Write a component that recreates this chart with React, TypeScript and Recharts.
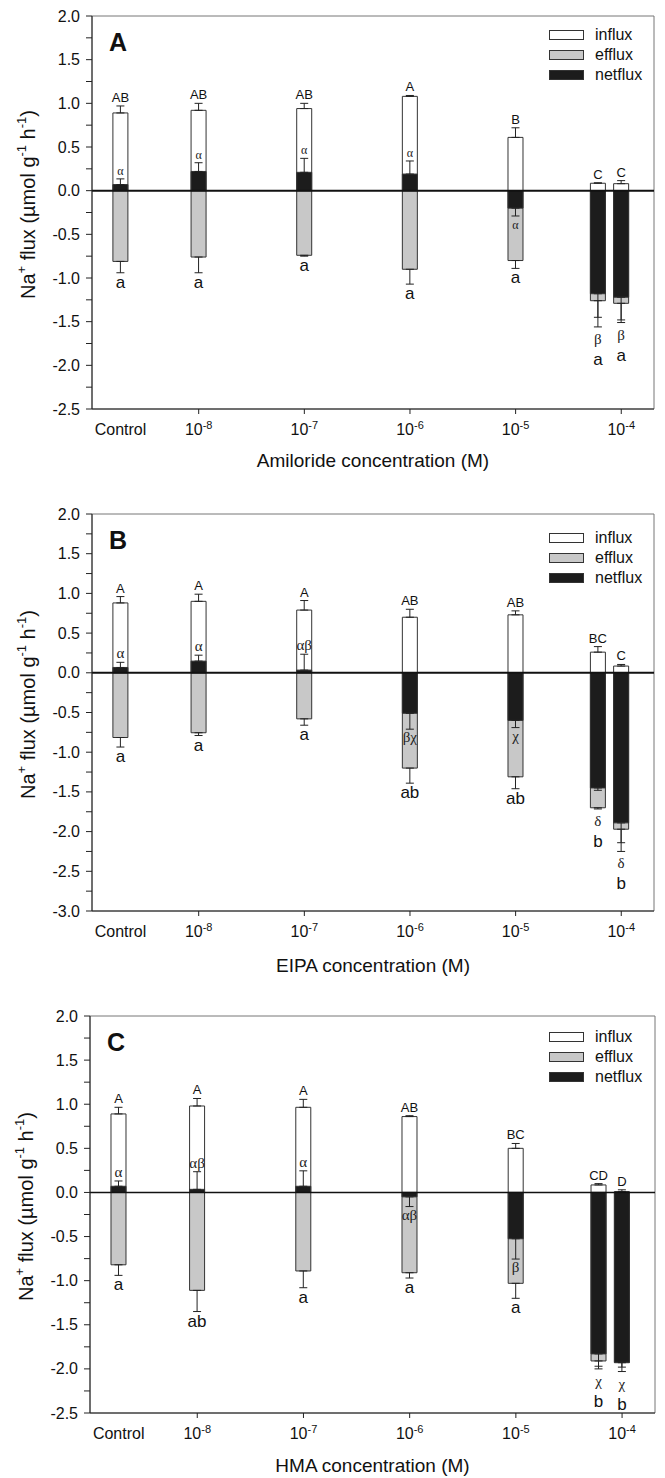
import React from 'react';
import { BarChart, Bar, XAxis, YAxis, ErrorBar, ReferenceLine, ReferenceArea, Legend, LabelList } from 'recharts';

const FONT = '"Liberation Sans", Arial, Helvetica, sans-serif';
const GREEK_FONT = '"Liberation Serif", "DejaVu Serif", serif';

// x position = log10 of the concentration; the control sits left of 10^-8
const concLog = [-8.74, -8, -7, -6, -5, -4.22, -4];
const xTickValues = [-8.74, -8, -7, -6, -5, -4];
const xTickBase = ['Control', '10', '10', '10', '10', '10'];
const xTickExp = ['', '-8', '-7', '-6', '-5', '-4'];
const xDomain = [-9.01, -3.69];

const yTicks25 = [-2.5, -2.25, -2, -1.75, -1.5, -1.25, -1, -0.75, -0.5, -0.25, 0, 0.25, 0.5, 0.75, 1, 1.25, 1.5, 1.75, 2];
const yTicks30 = [-3, -2.75, ...yTicks25];

const seriesOrder = ['influx', 'efflux', 'netflux'];

// A: amiloride
const amilorideInflux = [0.89, 0.92, 0.94, 1.08, 0.61, 0.085, 0.08];
const amilorideInfluxErr = [0.08, 0.08, 0.06, 0.01, 0.11, 0.005, 0.035];
const amilorideEfflux = [-0.81, -0.76, -0.74, -0.9, -0.8, -1.26, -1.29];
const amilorideEffluxErr = [0.13, 0.18, 0.01, 0.17, 0.09, 0.3, 0.22];
const amilorideNet = [0.07, 0.22, 0.21, 0.19, -0.2, -1.18, -1.22];
const amilorideNetErr = [0.065, 0.1, 0.16, 0.15, 0.09, 0.27, 0.26];
const amilorideUpper = ['AB', 'AB', 'AB', 'A', 'B', 'C', 'C'];
const amilorideGreek = ['α', 'α', 'α', 'α', 'α', 'β', 'β'];
const amilorideLower = ['a', 'a', 'a', 'a', 'a', 'a', 'a'];

// B: EIPA
const eipaInflux = [0.88, 0.9, 0.79, 0.7, 0.73, 0.26, 0.085];
const eipaInfluxErr = [0.08, 0.09, 0.12, 0.1, 0.05, 0.07, 0.02];
const eipaEfflux = [-0.815, -0.755, -0.58, -1.2, -1.31, -1.7, -1.97];
const eipaEffluxErr = [0.12, 0.035, 0.08, 0.19, 0.15, 0.015, 0.28];
const eipaNet = [0.067, 0.147, 0.034, -0.51, -0.6, -1.45, -1.89];
const eipaNetErr = [0.065, 0.075, 0.2, 0.2, 0.09, 0.03, 0.25];
const eipaUpper = ['A', 'A', 'A', 'AB', 'AB', 'BC', 'C'];
const eipaGreek = ['α', 'α', 'αβ', 'βχ', 'χ', 'δ', 'δ'];
const eipaLower = ['a', 'a', 'a', 'ab', 'ab', 'b', 'b'];

// C: HMA
const hmaInflux = [0.89, 0.98, 0.965, 0.86, 0.5, 0.085, 0.01];
const hmaInfluxErr = [0.075, 0.085, 0.09, 0.01, 0.055, 0.015, 0.02];
const hmaEfflux = [-0.82, -1.11, -0.89, -0.91, -1.03, -1.91, -1.93];
const hmaEffluxErr = [0.12, 0.24, 0.19, 0.06, 0.17, 0.09, 0.1];
const hmaNet = [0.07, 0.035, 0.07, -0.05, -0.525, -1.83, -1.925];
const hmaNetErr = [0.06, 0.2, 0.175, 0.11, 0.23, 0.14, 0.055];
const hmaUpper = ['A', 'A', 'A', 'AB', 'BC', 'CD', 'D'];
const hmaGreek = ['α', 'αβ', 'α', 'αβ', 'β', 'χ', 'χ'];
const hmaLower = ['a', 'ab', 'a', 'a', 'a', 'b', 'b'];

const panels = [
  {
    letter: 'A', title: 'Amiloride concentration (M)',
    influx: amilorideInflux, influxErr: amilorideInfluxErr, efflux: amilorideEfflux, effluxErr: amilorideEffluxErr,
    net: amilorideNet, netErr: amilorideNetErr, upper: amilorideUpper, greek: amilorideGreek, lower: amilorideLower,
    yDomain: [-2.5, 2], yTicks: yTicks25,
    top: 0, height: 490, margin: { top: 16, right: 11, bottom: 11, left: 12 }, xAxisHeight: 70,
    titleOffset: 58, legendTop: 25, zeroWidth: 2, greekSize: 12, greekBelowSize: 15,
  },
  {
    letter: 'B', title: 'EIPA concentration (M)',
    influx: eipaInflux, influxErr: eipaInfluxErr, efflux: eipaEfflux, effluxErr: eipaEffluxErr,
    net: eipaNet, netErr: eipaNetErr, upper: eipaUpper, greek: eipaGreek, lower: eipaLower,
    yDomain: [-3, 2], yTicks: yTicks30,
    top: 490, height: 500, margin: { top: 24, right: 11, bottom: 9, left: 12 }, xAxisHeight: 70,
    titleOffset: 61, legendTop: 38, zeroWidth: 2, greekSize: 15, greekBelowSize: 15,
  },
  {
    letter: 'C', title: 'HMA concentration (M)',
    influx: hmaInflux, influxErr: hmaInfluxErr, efflux: hmaEfflux, effluxErr: hmaEffluxErr,
    net: hmaNet, netErr: hmaNetErr, upper: hmaUpper, greek: hmaGreek, lower: hmaLower,
    yDomain: [-2.5, 2], yTicks: yTicks25,
    top: 990, height: 488, margin: { top: 26, right: 10, bottom: 5, left: 10 }, xAxisHeight: 60,
    titleOffset: 59, legendTop: 37, zeroWidth: 1.5, greekSize: 15, greekBelowSize: 15,
  },
];

const XTick = (props: any) => {
  const { x, y, payload } = props;
  const i = xTickValues.indexOf(payload.value);
  const axisY = y - 10;
  return (
    <g>
      {xTickExp[i] && <line x1={x} x2={x} y1={axisY} y2={axisY + 5} stroke="#222" />}
      <text x={x} y={y + 16} textAnchor="middle" fontSize={16} fill="#111" fontFamily={FONT}>
        {xTickBase[i]}
        {xTickExp[i] && <tspan dy={-6} fontSize={11}>{xTickExp[i]}</tspan>}
      </text>
    </g>
  );
};

const YTick = (props: any) => {
  const { x, y, payload } = props;
  const v = payload.value;
  if (Math.abs(v * 2 - Math.round(v * 2)) > 1e-6) return null;
  return (
    <text x={x} y={y} textAnchor="end" dominantBaseline="central" fontSize={16} fill="#111" fontFamily={FONT}>
      {v.toFixed(1)}
    </text>
  );
};

const YTitle = (props: any) => {
  const vb = props.viewBox;
  const cx = vb.x + 16;
  const cy = vb.y + vb.height / 2 - 8;
  return (
    <text x={cx} y={cy} transform={`rotate(-90 ${cx} ${cy})`} textAnchor="middle" dominantBaseline="central"
      fontSize={20} fill="#111" fontFamily={FONT}>
      Na<tspan dy={-7} fontSize={13}>+</tspan>
      <tspan dy={7}> flux (µmol g</tspan>
      <tspan dy={-7} fontSize={13}>-1</tspan>
      <tspan dy={7}> h</tspan>
      <tspan dy={-7} fontSize={13}>-1</tspan>
      <tspan dy={7}>)</tspan>
    </text>
  );
};

const XTitle = (props: any) => {
  const vb = props.viewBox;
  return (
    <text x={vb.x + vb.width / 2} y={vb.y + props.offsetY} textAnchor="middle" fontSize={19} fill="#111" fontFamily={FONT}>
      {props.text}
    </text>
  );
};

// letters of significance, placed from the bar geometry of the netflux bar
const SigLabels = (props: any) => {
  const { index, p } = props;
  const vb = props.viewBox && props.viewBox.width !== undefined ? props.viewBox : props;
  const net = p.net[index];
  const h = Math.abs(vb.height);
  const top = Math.min(vb.y, vb.y + vb.height);
  const ppu = h / Math.abs(net);
  const zeroY = net >= 0 ? top + h : top;
  const Y = (v: number) => zeroY - v * ppu;
  const cx = vb.x + vb.width / 2;

  const inTop = Y(p.influx[index] + p.influxErr[index]);
  const efEnd = Y(p.efflux[index] - p.effluxErr[index]);
  let greekY;
  let greekBelow = false;
  if (net >= 0) {
    greekY = Y(net + p.netErr[index]) - 4;
  } else {
    const netEnd = Y(net - p.netErr[index]);
    const room = Y(p.efflux[index]) - netEnd;
    if (room >= 22) {
      greekY = netEnd + 13;
    } else {
      greekY = Math.max(netEnd, efEnd) + 17;
      greekBelow = true;
    }
  }
  const lowerY = greekBelow ? greekY + 21 : efEnd + 15;

  return (
    <g>
      <text x={cx} y={inTop - 4} textAnchor="middle" fontSize={13} fill="#111" fontFamily={FONT}>{p.upper[index]}</text>
      <text x={cx} y={greekY} textAnchor="middle" fontSize={greekBelow ? p.greekBelowSize : p.greekSize} fill="#222"
        fontFamily={GREEK_FONT}>{p.greek[index]}</text>
      <text x={cx} y={lowerY} textAnchor="middle" fontSize={17} fill="#111" fontFamily={FONT}>{p.lower[index]}</text>
    </g>
  );
};

const renderLegend = (props: any) => {
  const items = [...(props.payload || [])].sort(
    (a: any, b: any) => seriesOrder.indexOf(a.value) - seriesOrder.indexOf(b.value),
  );
  return (
    <div style={{ fontFamily: FONT, fontSize: 16, color: '#111' }}>
      {items.map((e: any) => (
        <div key={e.value} style={{ display: 'flex', alignItems: 'center', height: 20 }}>
          <span style={{ display: 'inline-block', width: 35, height: 10, background: e.color, border: '1px solid #333', boxSizing: 'border-box', marginRight: 11 }} />
          <span>{e.value}</span>
        </div>
      ))}
    </div>
  );
};

const FluxPanel = ({ p }: { p: any }) => {
  const rows = concLog.map((x, i) => ({
    x,
    influx: p.influx[i],
    influxErr: [0, p.influxErr[i]],
    efflux: p.efflux[i],
    effluxErr: [p.effluxErr[i], 0],
    net: p.net[i],
    netErr: p.net[i] >= 0 ? [0, p.netErr[i]] : [p.netErr[i], 0],
  }));

  return (
    <BarChart width={665} height={p.height} data={rows} margin={p.margin} style={{ fontFamily: FONT }}>
      <XAxis xAxisId="ef" dataKey="x" type="number" domain={xDomain} ticks={xTickValues} allowDataOverflow hide height={0} />
      <XAxis xAxisId="net" dataKey="x" type="number" domain={xDomain} ticks={xTickValues} allowDataOverflow hide height={0} />
      <XAxis xAxisId="in" dataKey="x" type="number" domain={xDomain} ticks={xTickValues} interval={0} allowDataOverflow
        tick={<XTick />} tickLine={false} tickSize={5} tickMargin={5} axisLine={{ stroke: '#222' }} height={p.xAxisHeight}
        label={<XTitle text={p.title} offsetY={p.titleOffset} />} />
      <YAxis type="number" domain={p.yDomain} ticks={p.yTicks} interval={0} allowDataOverflow width={80}
        tick={<YTick />} tickSize={6} tickMargin={6} tickLine={{ stroke: '#222' }} axisLine={{ stroke: '#222' }}
        label={<YTitle />} />
      <ReferenceArea xAxisId="in" y1={p.yDomain[0]} y2={p.yDomain[1]} fill="none" stroke="#777" strokeWidth={1}
        label={{ value: p.letter, position: 'insideTopLeft', offset: 17, fontSize: 25, fontWeight: 700, fill: '#111', fontFamily: FONT }} />
      <Bar xAxisId="in" dataKey="influx" name="influx" fill="#ffffff" stroke="#333" strokeWidth={1} barSize={15} isAnimationActive={false}>
        <ErrorBar dataKey="influxErr" width={4} stroke="#222" strokeWidth={1} />
      </Bar>
      <Bar xAxisId="ef" dataKey="efflux" name="efflux" fill="#c8c8c8" stroke="#333" strokeWidth={1} barSize={15} isAnimationActive={false}>
        <ErrorBar dataKey="effluxErr" width={4} stroke="#222" strokeWidth={1} />
      </Bar>
      <Bar xAxisId="net" dataKey="net" name="netflux" fill="#1c1c1c" stroke="#333" strokeWidth={1} barSize={15} isAnimationActive={false}>
        <ErrorBar dataKey="netErr" width={4} stroke="#222" strokeWidth={1} />
        <LabelList dataKey="net" content={(lp: any) => <SigLabels {...lp} p={p} />} />
      </Bar>
      <ReferenceLine xAxisId="in" y={0} stroke="#111" strokeWidth={p.zeroWidth} />
      <Legend layout="vertical" align="center" verticalAlign="middle" content={renderLegend}
        wrapperStyle={{ left: 549, top: p.legendTop, width: 110, height: 62 }} />
    </BarChart>
  );
};

export default function App() {
  return (
    <div style={{ position: 'absolute', left: 0, top: 0, width: 665, height: 1478, background: '#fff' }}>
      {panels.map((p) => (
        <div key={p.letter} style={{ position: 'absolute', left: 0, top: p.top }}>
          <FluxPanel p={p} />
        </div>
      ))}
    </div>
  );
}
